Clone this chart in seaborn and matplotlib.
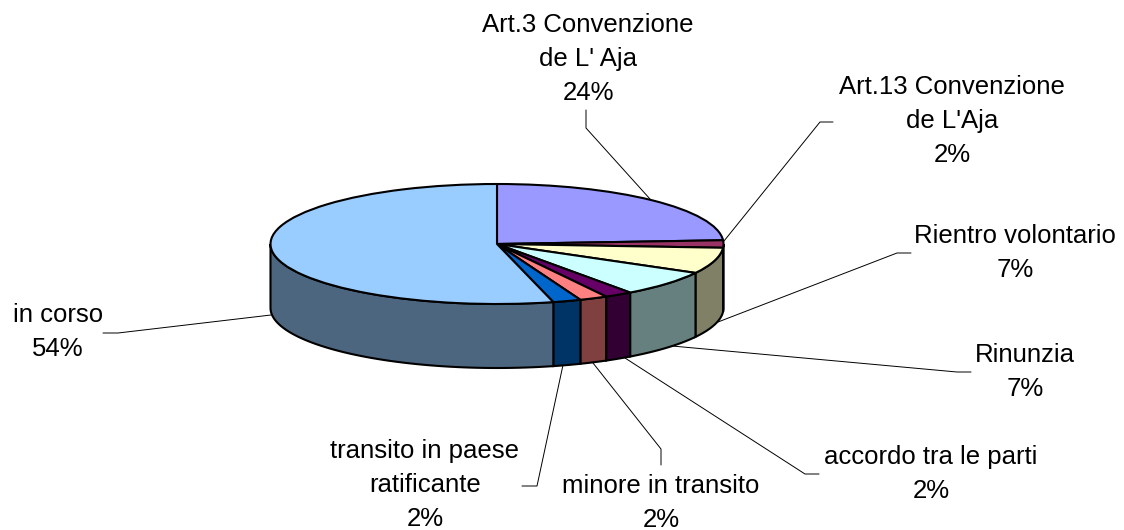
import numpy as np
import matplotlib
matplotlib.use('Agg')
import matplotlib.pyplot as plt
import seaborn as sns

# Slices, clockwise from the top
names = ["Art.3 Convenzione\nde L' Aja", "Art.13 Convenzione\nde L'Aja", "Rientro volontario",
         "Rinunzia", "accordo tra le parti", "minore in transito",
         "transito in paese\nratificante", "in corso"]
values = [24, 2, 7, 7, 2, 2, 2, 54]
top_colors = ["#9999FF", "#993366", "#FFFFCC", "#CCFFFF", "#660066", "#FF8080", "#0066CC", "#99CCFF"]

# Label centres and leader lines, in pixels of the picture
label_pos = [(588, 59), (952, 121), (1015, 253), (1025, 372), (931, 474), (661, 503), (425, 485), (58, 332)]
leaders = [[(586, 110), (586, 128), (650, 199)],
           [(833, 122), (820, 122), (724, 241)],
           [(911, 253), (897, 253), (718, 322)],
           [(971, 372), (957, 372), (672, 346)],
           [(819, 474), (805, 474), (625, 358)],
           [(661, 465), (661, 449), (593, 363)],
           [(522, 486), (537, 486), (563, 365)],
           [(103, 333), (118, 333), (271, 315)]]

cx, cy, rx, ry, depth = 497, 244, 226.5, 60, 64
W, H = 1124, 530

sns.set_theme(style="white")
plt.rcParams['font.family'] = 'Liberation Sans'
palette = sns.color_palette(top_colors)

fig = plt.figure(figsize=(W / 100, H / 100), dpi=100)

# Pie axes: the unit circle is squashed into the ellipse of the top face
ax = fig.add_axes([0, 0, 1, 1])
edge = dict(edgecolor='black', linewidth=1.5, joinstyle='round')
ax.pie(values, colors=palette, startangle=90, counterclock=False, wedgeprops=edge)
ax.set_aspect('auto')
ax.set_xlim(-cx / rx, (W - cx) / rx)
ax.set_ylim((cy - H) / ry, cy / ry)

# Side wall: half the colour of the slice, only on the front half
drop = depth / ry
ends = np.cumsum(values) / sum(values) * 360
starts = ends - np.array(values) / sum(values) * 360
for a0, a1, col in zip(starts, ends, palette):
    lo, hi = max(a0, 90), min(a1, 270)
    if hi <= lo:
        continue
    t = np.radians(np.linspace(lo, hi, 60))
    x, y = np.sin(t), np.cos(t)
    ax.fill(np.r_[x, x[::-1]], np.r_[y, y[::-1] - drop], facecolor=np.array(col) / 2,
            edgecolor='black', linewidth=1.5, zorder=0.5)

# Overlay in pixels for the labels and leader lines
over = fig.add_axes([0, 0, 1, 1], facecolor='none')
for line in leaders:
    xs, ys = zip(*line)
    sns.lineplot(x=list(xs), y=list(ys), ax=over, color='black', linewidth=0.7, sort=False,
                 estimator=None, legend=False)
for name, val, (px, py) in zip(names, values, label_pos):
    over.text(px, py, f"{name}\n{val}%", ha='center', va='center', fontsize=18.5,
              color='black', linespacing=1.55)
over.set_xlim(0, W)
over.set_ylim(H, 0)
over.axis('off')

fig.savefig('out.png', dpi=100, facecolor='white')
